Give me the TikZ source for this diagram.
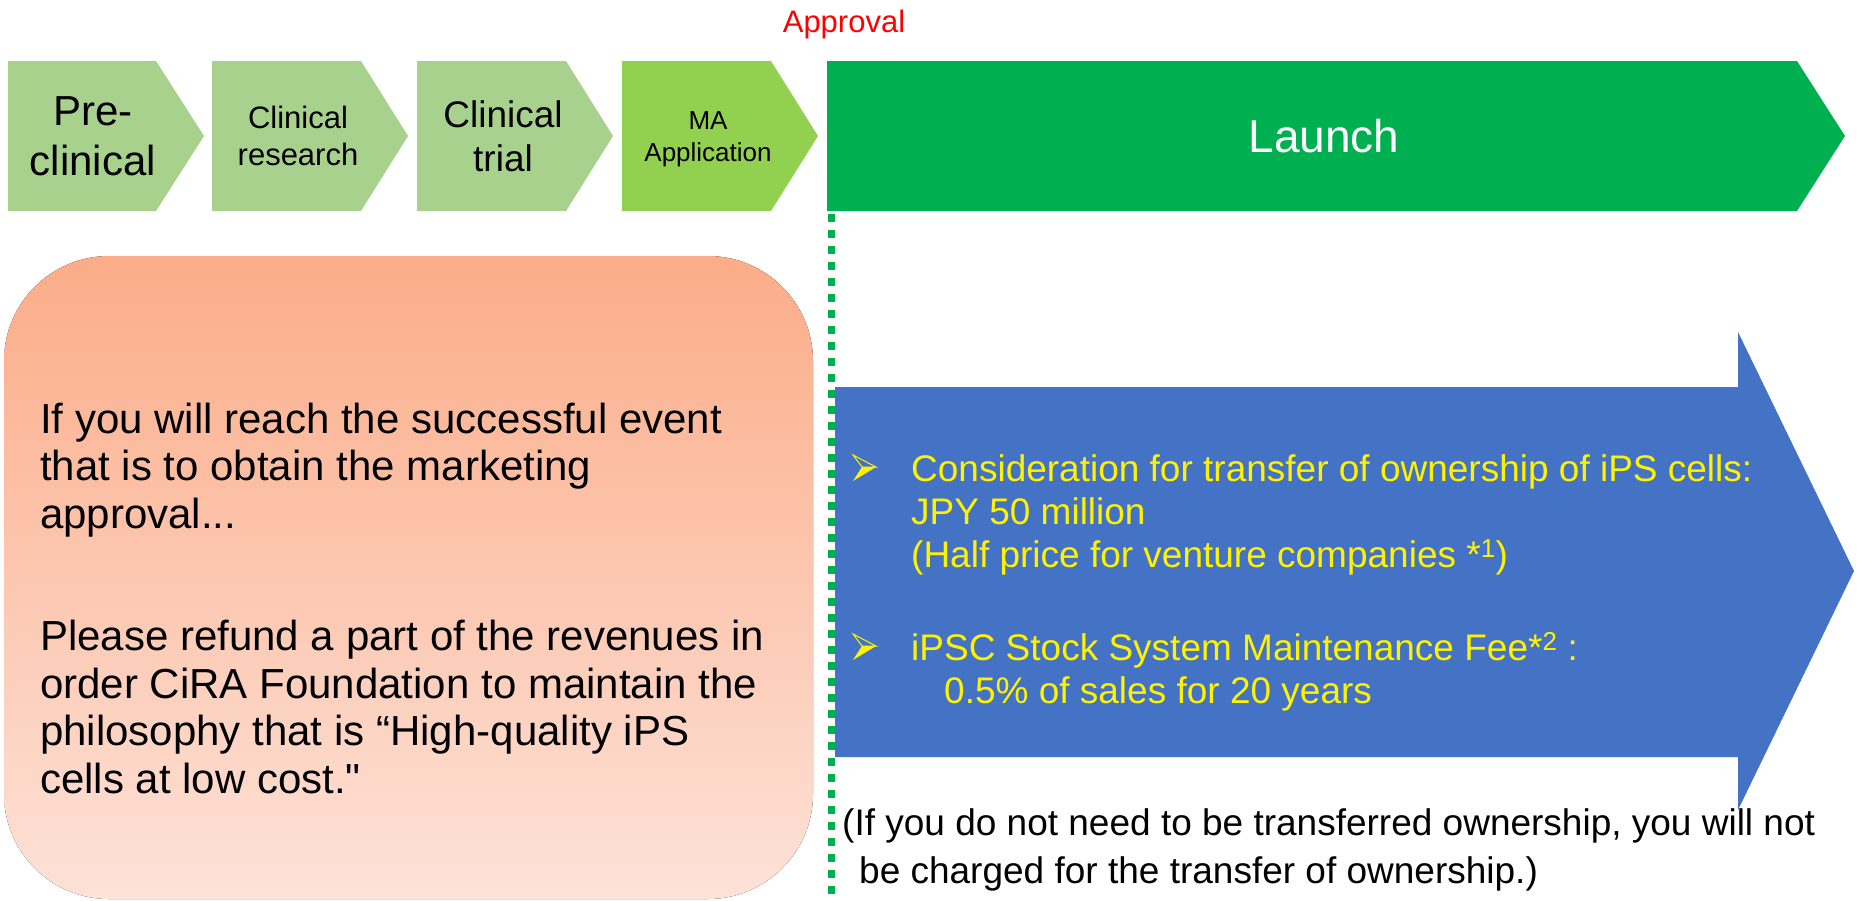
\documentclass[tikz,border=0pt]{standalone}
\usepackage{fontspec}
\setmainfont{Liberation Sans}[Ligatures=TeXOff]
\definecolor{stagelight}{HTML}{A9D18E}
\definecolor{stagema}{HTML}{92D050}
\definecolor{launchgreen}{HTML}{00B050}
\definecolor{feeblue}{HTML}{4472C4}
\definecolor{refundtop}{RGB}{251,172,136}
\definecolor{refundbot}{RGB}{253,226,216}

\begin{document}
\begin{tikzpicture}[x=1pt,y=-1pt]
\tikzstyle{stagetext}=[inner sep=0pt,align=center]
\tikzstyle{bodytext}=[inner sep=0pt,align=left,anchor=base west]
\useasboundingbox (0,0) rectangle (1858,900);
% stages before approval
\fill[stagelight] (8,61) -- (156,61) -- (204,136) -- (156,211) -- (8,211) -- cycle;
\fill[stagelight] (212,61) -- (361,61) -- (408,136) -- (361,211) -- (212,211) -- cycle;
\fill[stagelight] (417,61) -- (566,61) -- (613,136) -- (566,211) -- (417,211) -- cycle;
\fill[stagema] (622,61) -- (771,61) -- (818,136) -- (771,211) -- (622,211) -- cycle;
\fill[launchgreen] (827,61) -- (1797,61) -- (1845,136) -- (1797,211) -- (827,211) -- cycle;
\path (93,136) node[stagetext,font=\fontsize{42}{50}\selectfont](pre){Pre-\\clinical}
 (298,136) node[stagetext,font=\fontsize{31}{37}\selectfont](research){Clinical\\research}
 (503,136) node[stagetext,font=\fontsize{37}{44}\selectfont](trial){Clinical\\trial}
 (708,139.5) node[stagetext,font=\fontsize{26}{32}\selectfont](ma){MA\\Application}
 (1324,136) node[stagetext,white,font=\fontsize{46}{50}\selectfont](launch){Launch};
\path (844,32) node[inner sep=0pt,anchor=base,red,font=\fontsize{31}{36}\selectfont](approval){Approval};
% approval line
\coordinate (linetop) at (831,214);
\coordinate (linebot) at (831,900);
% refund box
\fill[top color=refundtop,bottom color=refundbot,rounded corners=105pt] (4,256) rectangle (813,899);
\path (40,528) node[bodytext,font=\fontsize{42}{47.5}\selectfont](event){If you will reach the successful event\\that is to obtain the marketing\\approval...}
 (40,793) node[bodytext,font=\fontsize{42}{47.5}\selectfont](refund){Please refund a part of the revenues in\\order CiRA Foundation to maintain the\\philosophy that is “High-quality iPS\\cells at low cost."};
% fee arrow
\fill[feeblue] (835,387) -- (1738,387) -- (1738,332) -- (1854,571) -- (1738,810) -- (1738,757) -- (835,757) -- cycle;
\draw[launchgreen,line width=7pt,dash pattern=on 8pt off 8pt] (linetop) -- (linebot);
% bullets
\foreach \by in {481,660}{
  \fill[yellow] (862,\by-14) -- (876,\by-14) -- (853,\by) -- cycle;
  \draw[yellow,line width=1pt,line join=miter] (853,\by-26) -- (876,\by-14) -- (862,\by-14) -- cycle;
}
\path (911,567) node[bodytext,yellow,font=\fontsize{37}{43}\selectfont](ownership){Consideration for transfer of ownership of iPS cells:\\JPY 50 million\\(Half price for venture companies *\textsuperscript{1})}
 (911,703) node[bodytext,yellow,font=\fontsize{37}{43}\selectfont](stockfee){iPSC Stock System Maintenance Fee*\textsuperscript{2} :\\\hspace*{33pt}0.5\% of sales for 20 years};
\path (842,883) node[bodytext,font=\fontsize{37}{48}\selectfont](note){(If you do not need to be transferred ownership, you will not\\\hspace*{17pt}be charged for the transfer of ownership.)};
\end{tikzpicture}
\end{document}
